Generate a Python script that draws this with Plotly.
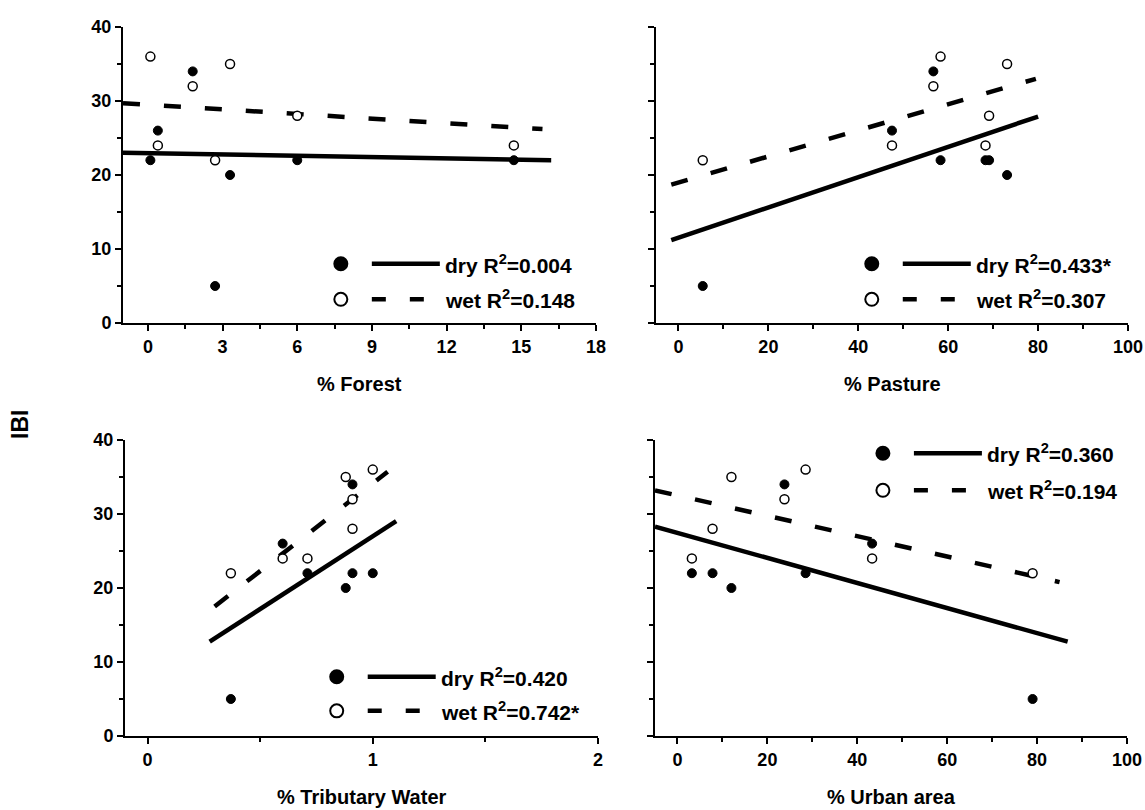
import plotly.graph_objects as go

# ---- data (7 sites) ----
forest = [0.1, 0.4, 1.8, 2.7, 3.3, 6.0, 14.7]
pasture = [58.3, 47.5, 56.7, 5.4, 73.1, 69.1, 68.3]
tributary = [1.0, 0.6, 0.91, 0.37, 0.88, 0.91, 0.71]
urban = [28.5, 43.3, 23.8, 79.0, 12.0, 7.8, 3.2]
ibi_dry = [22, 26, 34, 5, 20, 22, 22]
ibi_wet = [36, 24, 32, 22, 35, 28, 24]

# regression line end points (as drawn in the reference)
dry_fit_x = [[-1.0, 16.2], [-1.6, 80.0], [0.276, 1.104], [-5.0, 86.8]]
dry_fit_y = [[23.0, 22.0], [11.2, 27.9], [12.75, 29.05], [28.3, 12.75]]
wet_fit_x = [[-1.0, 15.85], [-1.6, 79.5], [0.298, 1.066], [-5.0, 85.0]]
wet_fit_y = [[29.7, 26.2], [18.7, 33.0], [17.5, 35.7], [33.2, 20.8]]

dry_r2 = ["0.004", "0.433*", "0.420", "0.360"]
wet_r2 = ["0.148", "0.307", "0.742*", "0.194"]
x_titles = ["% Forest", "% Pasture", "% Tributary Water", "% Urban area"]

# legend anchor (data coords) per panel
leg_x = [7.75, 43.0, 0.84, 45.7]
leg_y_dry = [8.0, 8.0, 8.0, 38.2]
leg_y_wet = [3.2, 3.2, 3.4, 33.2]

x_ranges = [[-1, 18], [-5, 100], [-0.1, 2], [-5, 100]]
x_dticks = [3, 20, 1, 20]
x_minor = [1.5, 10, 0.5, 10]

W, H = 1145, 810
FONT = "Liberation Sans, Arial, sans-serif"

# panel pixel boxes: left, right, top, bottom
boxes = [(123, 596, 27, 323), (656, 1128, 27, 323),
         (125, 598, 440, 736), (655, 1127, 440, 736)]

xs_data = [forest, pasture, tributary, urban]

fig = go.Figure()
layout = dict(width=W, height=H, margin=dict(l=0, r=0, t=0, b=0),
              plot_bgcolor="white", paper_bgcolor="white", showlegend=False)
shapes = []
annotations = []

for i in range(4):
    n = "" if i == 0 else str(i + 1)
    xa, ya = "x" + n, "y" + n
    L, R, T, B = boxes[i]
    layout["xaxis" + n] = dict(
        domain=[L / W, R / W], anchor=ya, range=x_ranges[i],
        tick0=0, dtick=x_dticks[i], showline=True, linecolor="black", linewidth=2,
        ticks="outside", ticklen=6, tickwidth=2, tickcolor="black",
        showgrid=False, zeroline=False, automargin=False,
        tickfont=dict(family=FONT, size=18, color="black", weight="bold"),
        minor=dict(ticks="outside", ticklen=4, tickwidth=2, tickcolor="black",
                   dtick=x_minor[i], tick0=0, showgrid=False))
    layout["yaxis" + n] = dict(
        domain=[1 - B / H, 1 - T / H], anchor=xa, range=[0, 40],
        tick0=0, dtick=10, showline=True, linecolor="black", linewidth=2,
        ticks="outside", ticklen=6, tickwidth=2, tickcolor="black",
        showgrid=False, zeroline=False, automargin=False,
        showticklabels=(i % 2 == 0),
        tickfont=dict(family=FONT, size=18, color="black", weight="bold"),
        minor=dict(ticks="outside", ticklen=4, tickwidth=2, tickcolor="black",
                   dtick=5, tick0=0, showgrid=False))

    # regression lines
    fig.add_trace(go.Scatter(x=dry_fit_x[i], y=dry_fit_y[i], mode="lines",
                             line=dict(color="black", width=4.5),
                             xaxis=xa, yaxis=ya, hoverinfo="skip"))
    fig.add_trace(go.Scatter(x=wet_fit_x[i], y=wet_fit_y[i], mode="lines",
                             line=dict(color="black", width=4.5, dash="17px,24px"),
                             xaxis=xa, yaxis=ya, hoverinfo="skip"))
    # points
    fig.add_trace(go.Scatter(x=xs_data[i], y=ibi_dry, mode="markers",
                             marker=dict(symbol="circle", size=9, color="black",
                                         line=dict(color="black", width=1)),
                             xaxis=xa, yaxis=ya, name="dry"))
    fig.add_trace(go.Scatter(x=xs_data[i], y=ibi_wet, mode="markers",
                             marker=dict(symbol="circle", size=9, color="white",
                                         line=dict(color="black", width=1.5)),
                             xaxis=xa, yaxis=ya, name="wet"))

    # legend glyphs
    for ly, fill, dash, lab, r2 in [(leg_y_dry[i], "black", "solid", "dry", dry_r2[i]),
                                     (leg_y_wet[i], "white", "14px,24px", "wet", wet_r2[i])]:
        shapes.append(dict(type="circle", xref=xa, yref=ya,
                           xsizemode="pixel", ysizemode="pixel",
                           xanchor=leg_x[i], yanchor=ly,
                           x0=-6.5, x1=6.5, y0=-6.5, y1=6.5,
                           fillcolor=fill, line=dict(color="black", width=2)))
        shapes.append(dict(type="line", xref=xa, yref=ya,
                           xsizemode="pixel", xanchor=leg_x[i],
                           x0=31, x1=99, y0=ly, y1=ly,
                           line=dict(color="black", width=4.5, dash=dash)))
        annotations.append(dict(xref=xa, yref=ya, x=leg_x[i], y=ly, xshift=102,
                                xanchor="left", yanchor="middle", showarrow=False,
                                text=f"{lab} R<sup>2</sup>={r2}",
                                font=dict(family=FONT, size=21, color="black", weight="bold")))

    # x-axis title
    annotations.append(dict(xref=xa + " domain", yref="paper", x=0.5,
                            y=1 - (B + 61) / H, xanchor="center", yanchor="middle",
                            showarrow=False, text=x_titles[i],
                            font=dict(family=FONT, size=20, color="black", weight="bold")))

annotations.append(dict(xref="paper", yref="paper", x=20 / W, y=1 - 425 / H,
                        xanchor="center", yanchor="middle", showarrow=False,
                        text="IBI", textangle=-90,
                        font=dict(family=FONT, size=23, color="black", weight="bold")))

layout["shapes"] = shapes
layout["annotations"] = annotations
fig.update_layout(**layout)
fig.write_html("out.html", config={"displayModeBar": False},
               post_script="document.body.style.margin='0';document.body.style.overflow='hidden';")
